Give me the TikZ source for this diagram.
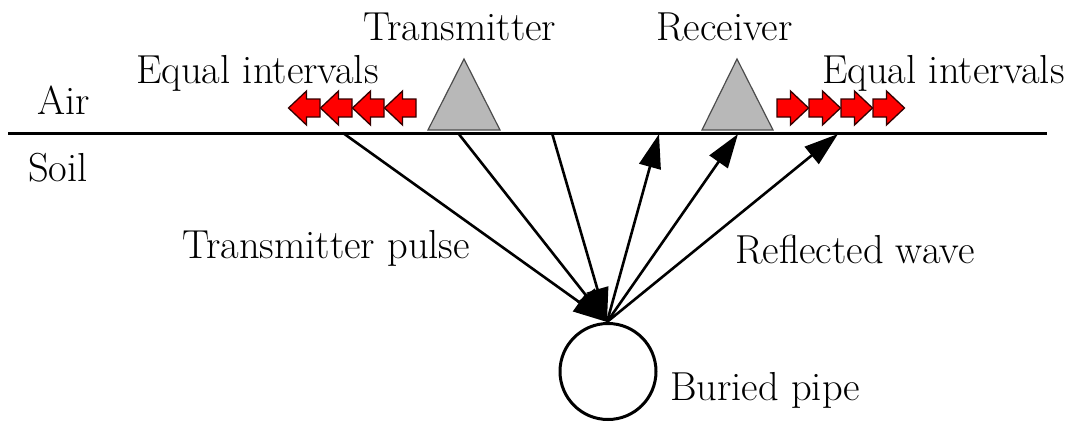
\documentclass[tikz,border=0pt]{standalone}
\usetikzlibrary{arrows.meta}
\tikzset{
  lbl/.style={anchor=base west, inner sep=0pt, font=\fontsize{40.5}{48}\selectfont},
  ray/.style={line width=2.6pt, -{Triangle[length=34pt,width=22pt]}},
  sensor/.style={draw=black!70, line width=1.2pt, fill=black!28, line join=miter},
  surface/.style={line width=3pt},
  pipe/.style={draw, circle, line width=3pt, minimum size=96pt, inner sep=0pt},
  blockarrow/.pic={
    \draw[fill=red, draw=black!80!red, line width=1.3pt, line join=miter]
      (0,-9) -- (13.5,-9) -- (13.5,-17) -- (31.5,0) -- (13.5,17) -- (13.5,9) -- (0,9) -- cycle;
  }
}
\begin{document}
\begin{tikzpicture}[x=1pt,y=-1pt]
\useasboundingbox (0,0) rectangle (1080,426);

% ground surface
\coordinate (gl) at (8,133);
\coordinate (gr) at (1047,133);
\draw[surface] (gl) -- (gr);

% antennas
\draw[sensor] (428,130) -- (464,59) -- (500,130) -- cycle;
\draw[sensor] (702,130) -- (737,59) -- (773,130) -- cycle;

% equal-interval markers
\foreach \x in {416,384,352,320}
  \pic[xscale=-1] at (\x,108) {blockarrow};
\foreach \x in {777,809,841,873}
  \pic at (\x,108) {blockarrow};

% buried pipe and point of reflection
\node[pipe] (pipe) at (608,371.5) {};
\coordinate (focus) at (607,322);

% transmitted rays
\coordinate (t1) at (343,133);
\coordinate (t2) at (458,133);
\coordinate (t3) at (552,133);
\draw[ray] (t1) -- (focus);
\draw[ray] (t2) -- (focus);
\draw[ray] (t3) -- (focus);

% reflected rays
\coordinate (r1) at (659,134);
\coordinate (r2) at (738,134);
\coordinate (r3) at (838,134);
\draw[ray] (focus) -- (r1);
\draw[ray] (focus) -- (r2);
\draw[ray] (focus) -- (r3);

% labels
\node[lbl] (tx) at (363,40) {Transmitter};
\node[lbl] (rx) at (656,40) {Receiver};
\node[lbl] (eqL) at (136,83) {Equal intervals};
\node[lbl] (eqR) at (822,83) {Equal intervals};
\node[lbl] (air) at (37,114) {Air};
\node[lbl] (soil) at (28,181) {Soil};
\node[lbl] (pulse) at (182,258) {Transmitter pulse};
\node[lbl] (refl) at (735,263) {Reflected wave};
\node[lbl] (pipelbl) at (670,400) {Buried pipe};
\end{tikzpicture}
\end{document}
